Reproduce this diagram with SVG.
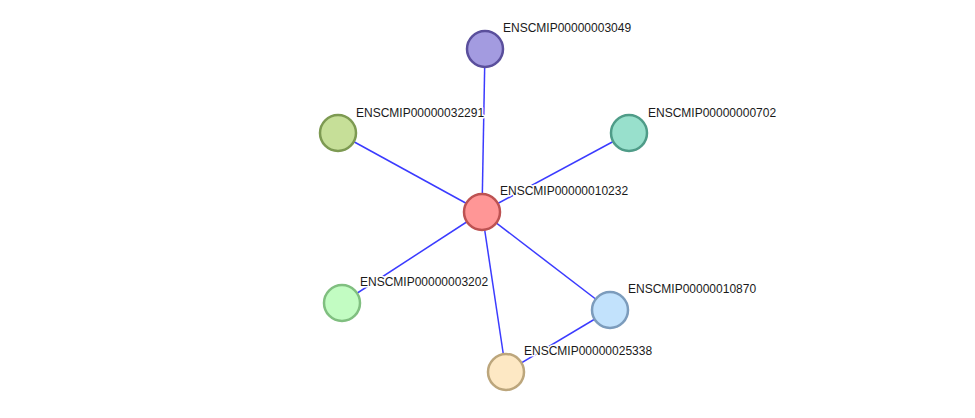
<svg xmlns="http://www.w3.org/2000/svg" width="975" height="418" viewBox="0 0 975 418">
<style>
.e{stroke:#3b3bff;stroke-width:1.5;fill:none}
.n{stroke-width:2.5}
.t{font-family:"Liberation Sans",Arial,sans-serif;font-size:12px;fill:#1a1a1a;stroke:#ffffff;stroke-width:3;stroke-linejoin:round;paint-order:stroke}
</style>
<rect width="975" height="418" fill="#ffffff"/>
<g id="edges">
<line class="e" x1="482" y1="212" x2="485" y2="49"/>
<line class="e" x1="482" y1="212" x2="338" y2="133"/>
<line class="e" x1="482" y1="212" x2="629" y2="133"/>
<line class="e" x1="482" y1="212" x2="342" y2="303"/>
<line class="e" x1="482" y1="212" x2="610" y2="310"/>
<line class="e" x1="482" y1="212" x2="506" y2="372"/>
<line class="e" x1="610" y1="310" x2="506" y2="372"/>
</g>
<g id="n3049"><circle class="n" cx="485" cy="49" r="18" fill="#a39be0" stroke="#5a4f9c"/><text class="t" x="503" y="32">ENSCMIP00000003049</text></g>
<g id="n32291"><circle class="n" cx="338" cy="133" r="18" fill="#c6df98" stroke="#7d9a52"/><text class="t" x="356" y="117">ENSCMIP00000032291</text></g>
<g id="n702"><circle class="n" cx="629" cy="133" r="18" fill="#98e0cc" stroke="#4f9c88"/><text class="t" x="648" y="117">ENSCMIP00000000702</text></g>
<g id="n10232"><circle class="n" cx="482" cy="212" r="18" fill="#ff9696" stroke="#bd5252"/><text class="t" x="500" y="195">ENSCMIP00000010232</text></g>
<g id="n3202"><circle class="n" cx="342" cy="303" r="18" fill="#c2fcc2" stroke="#80bf80"/><text class="t" x="360" y="286">ENSCMIP00000003202</text></g>
<g id="n10870"><circle class="n" cx="610" cy="310" r="18" fill="#c2e2fc" stroke="#7c9cbc"/><text class="t" x="628" y="293">ENSCMIP00000010870</text></g>
<g id="n25338"><circle class="n" cx="506" cy="372" r="18" fill="#fde8c4" stroke="#bca67c"/><text class="t" x="524" y="355">ENSCMIP00000025338</text></g>
</svg>
